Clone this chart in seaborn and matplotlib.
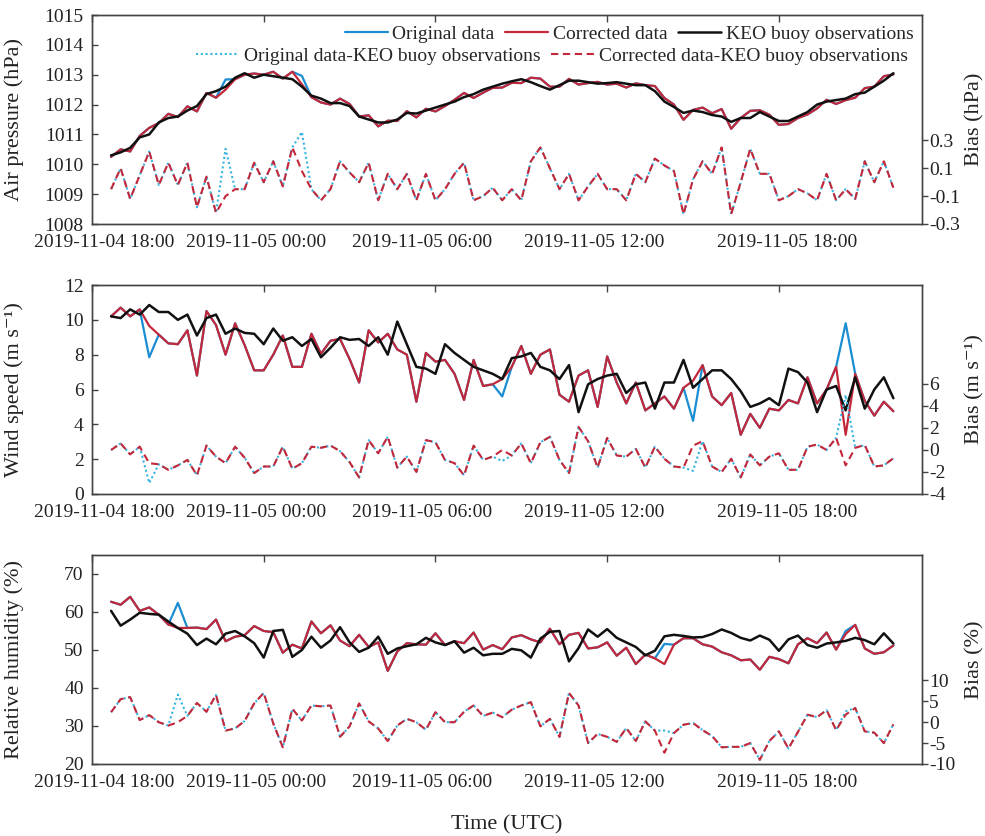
import numpy as np
import pandas as pd
import matplotlib
matplotlib.use('Agg')
import matplotlib.pyplot as plt
import matplotlib.dates as mdates
import matplotlib.transforms as mtransforms
import seaborn as sns

# ---------------- data (20-min samples) ----------------
TIME_START = '2019-11-04 18:40'
N_POINTS = 83

# Air pressure (hPa)
p_keo = [1010.3, 1010.4, 1010.55, 1010.9, 1011.0, 1011.4, 1011.55, 1011.6, 1011.8, 1011.95,
         1012.35, 1012.45, 1012.6, 1012.9, 1013.05, 1012.9, 1013.0, 1012.95, 1012.9, 1012.85,
         1012.6, 1012.3, 1012.2, 1012.05, 1012.05, 1011.95, 1011.6, 1011.5, 1011.4, 1011.4,
         1011.5, 1011.72, 1011.7, 1011.8, 1011.9, 1012.0, 1012.1, 1012.25, 1012.35, 1012.5,
         1012.6, 1012.7, 1012.78, 1012.85, 1012.75, 1012.62, 1012.5, 1012.65, 1012.8, 1012.8,
         1012.75, 1012.7, 1012.72, 1012.75, 1012.7, 1012.65, 1012.65, 1012.45, 1012.1, 1011.92,
         1011.72, 1011.8, 1011.75, 1011.65, 1011.6, 1011.42, 1011.55, 1011.55, 1011.75, 1011.6,
         1011.45, 1011.45, 1011.6, 1011.75, 1012.0, 1012.1, 1012.15, 1012.2, 1012.35, 1012.4,
         1012.6, 1012.8, 1013.05]
p_bias_corr = [-0.05, 0.10, -0.12, 0.05, 0.22, -0.02, 0.14, -0.02, 0.14, -0.18,
               0.04, -0.22, -0.10, -0.05, -0.05, 0.14, 0.00, 0.15, -0.03, 0.25,
               0.08, -0.05, -0.13, -0.05, 0.15, 0.07, 0.00, 0.14, -0.13, 0.06,
               -0.05, 0.06, -0.13, 0.06, -0.13, -0.05, 0.06, 0.14, -0.13, -0.10,
               -0.04, -0.13, -0.05, -0.13, 0.15, 0.25, 0.10, -0.05, 0.06, -0.13,
               -0.03, 0.06, -0.05, -0.05, -0.13, 0.06, 0.00, 0.17, 0.12, 0.08,
               -0.23, 0.02, 0.15, 0.06, 0.25, -0.23, 0.00, 0.24, 0.06, 0.06,
               -0.13, -0.10, -0.05, -0.08, -0.13, 0.06, -0.13, -0.05, -0.12, 0.15,
               0.00, 0.15, -0.04]
p_bias_orig = [-0.05, 0.10, -0.12, 0.05, 0.22, -0.02, 0.14, -0.02, 0.14, -0.18,
               0.04, -0.22, 0.24, -0.05, -0.05, 0.14, 0.00, 0.15, -0.03, 0.25,
               0.36, -0.05, -0.13, -0.05, 0.15, 0.07, 0.00, 0.14, -0.13, 0.06,
               -0.05, 0.06, -0.13, 0.06, -0.13, -0.05, 0.06, 0.14, -0.13, -0.10,
               -0.04, -0.13, -0.05, -0.13, 0.15, 0.25, 0.10, -0.05, 0.06, -0.13,
               -0.03, 0.06, -0.05, -0.05, -0.13, 0.06, 0.00, 0.17, 0.12, 0.08,
               -0.23, 0.02, 0.15, 0.06, 0.25, -0.23, 0.00, 0.24, 0.06, 0.06,
               -0.13, -0.10, -0.05, -0.08, -0.13, 0.06, -0.13, -0.05, -0.12, 0.15,
               0.00, 0.15, -0.04]

# Wind speed (m/s)
w_keo = [10.2, 10.1, 10.6, 10.3, 10.85, 10.45, 10.45, 10.0, 10.3, 9.1,
         10.1, 10.3, 9.2, 9.5, 9.25, 9.2, 8.6, 9.5, 8.8, 9.0,
         8.5, 8.9, 7.85, 8.4, 9.0, 8.85, 8.9, 8.5, 9.0, 8.0,
         9.9, 8.6, 7.3, 7.2, 6.9, 8.6, 8.1, 7.7, 7.3, 7.1,
         6.9, 6.6, 7.8, 7.9, 8.1, 7.3, 7.1, 6.6, 7.4, 4.7,
         6.3, 6.6, 6.8, 6.9, 5.8, 6.3, 6.4, 4.9, 6.4, 6.4,
         7.7, 6.1, 6.6, 7.1, 7.1, 6.6, 5.9, 5.0, 5.2, 5.5,
         5.1, 7.2, 7.0, 6.4, 4.7, 6.0, 6.2, 4.8, 6.7, 4.9,
         6.0, 6.7, 5.5]
w_bias_corr = [0.0, 0.6, -0.4, 0.3, -1.2, -1.3, -1.8, -1.4, -0.9, -2.3,
               0.4, -0.6, -1.2, 0.3, -0.7, -2.1, -1.5, -1.5, 0.3, -1.7,
               -1.2, 0.3, 0.2, 0.4, -0.1, -1.1, -2.5, 0.9, -0.3, 1.2,
               -1.6, -0.6, -2.0, 0.9, 0.7, -0.9, -1.2, -2.3, 0.4, -0.9,
               -0.6, 0.0, -0.5, 0.6, -1.2, 0.7, 1.2, -0.9, -2.1, 2.1,
               0.8, -1.6, 1.1, -0.5, -0.6, 0.1, -1.6, 0.3, -0.8, -1.5,
               -1.6, 0.4, 0.8, -1.5, -2.0, -0.8, -2.5, -0.4, -1.4, -0.6,
               -0.3, -1.8, -1.8, 0.3, 0.5, 0.0, 1.1, -1.4, 0.2, 0.45,
               -1.5, -1.4, -0.75]
w_bias_orig = [0.0, 0.6, -0.4, 0.3, -3.0, -1.3, -1.8, -1.4, -0.9, -2.3,
               0.4, -0.6, -1.2, 0.3, -0.7, -2.1, -1.5, -1.5, 0.3, -1.7,
               -1.2, 0.3, 0.2, 0.4, -0.1, -1.1, -2.5, 0.9, -0.3, 1.2,
               -1.6, -0.6, -2.0, 0.9, 0.7, -0.9, -1.2, -2.3, 0.4, -0.9,
               -0.6, -1.0, -0.5, 0.6, -1.2, 0.7, 1.2, -0.9, -2.1, 2.1,
               0.8, -1.6, 1.1, -0.5, -0.6, 0.1, -1.6, 0.3, -0.8, -1.5,
               -1.6, -1.9, 0.8, -1.5, -2.0, -0.8, -2.5, -0.4, -1.4, -0.6,
               -0.3, -1.8, -1.8, 0.3, 0.5, 0.0, 1.1, 5.0, 0.2, 0.45,
               -1.5, -1.4, -0.75]

# Relative humidity (%)
h_keo = [60.3, 56.4, 58.0, 59.8, 59.5, 59.3, 57.5, 55.8, 54.3, 51.3,
         53.0, 51.5, 54.3, 55.0, 53.6, 51.8, 48.0, 55.0, 55.3, 48.2,
         50.0, 53.5, 50.6, 52.5, 56.0, 52.0, 49.5, 50.6, 53.5, 49.0,
         50.4, 51.0, 51.5, 53.2, 52.0, 51.3, 52.3, 49.3, 50.6, 48.6,
         49.0, 49.0, 50.3, 49.9, 48.0, 53.0, 54.8, 55.0, 47.0, 50.5,
         55.4, 53.5, 55.5, 53.2, 52.0, 50.8, 48.6, 49.8, 53.6, 54.0,
         53.7, 53.3, 53.4, 54.2, 55.4, 54.5, 53.2, 52.5, 53.8, 52.7,
         49.8, 52.8, 53.8, 51.3, 50.6, 51.7, 52.0, 52.4, 53.2, 52.6,
         51.5, 54.4, 51.7]
h_bias_corr = [2.4, 5.5, 6.0, 0.5, 1.7, 0.0, -0.8, 0.0, 1.5, 4.6,
               2.5, 6.5, -2.0, -1.5, 0.3, 4.5, 7.0, -0.3, -6.0, 3.2,
               0.4, 4.0, 3.8, 4.0, -3.5, -1.0, 4.5, 0.2, -1.5, -4.5,
               -0.8, 0.8, 0.0, -1.8, 2.4, 0.0, 0.0, 2.5, 4.0, 1.5,
               2.3, 1.2, 3.0, 4.0, 4.8, -1.0, 0.8, -3.5, 7.0, 4.0,
               -5.0, -2.8, -3.5, -4.7, -1.4, -4.5, 0.2, -2.0, -7.3, -2.6,
               -0.6, -0.2, -1.9, -3.3, -6.0, -5.9, -5.9, -5.0, -9.0, -4.5,
               -2.2, -6.3, -2.3, 1.8, 1.2, 2.9, -1.9, 1.8, 3.4, -2.2,
               -2.5, -5.0, -0.5]
h_bias_orig = [2.4, 5.5, 6.0, 0.5, 1.7, 0.0, -0.8, 6.6, 1.5, 4.6,
               2.5, 6.5, -2.0, -1.5, 0.3, 4.5, 7.0, -0.3, -6.0, 3.2,
               0.4, 4.0, 3.8, 4.0, -3.5, -1.0, 4.5, 0.2, -1.5, -4.5,
               -0.8, 0.8, 0.0, -1.8, 2.4, 0.0, 0.0, 2.5, 4.0, 1.5,
               2.3, 1.2, 3.0, 4.0, 4.8, -1.0, 0.8, -3.5, 7.0, 4.0,
               -5.0, -2.8, -3.5, -4.7, -1.4, -4.5, 0.2, -2.0, -2.0, -2.6,
               -0.6, -0.2, -1.9, -3.3, -6.0, -5.9, -5.9, -5.0, -9.0, -4.5,
               -2.2, -6.3, -2.3, 1.8, 1.2, 2.9, -1.9, 2.6, 3.4, -2.2,
               -2.5, -5.0, -0.5]

tick_times = ['2019-11-04 18:00', '2019-11-05 00:00', '2019-11-05 06:00',
              '2019-11-05 12:00', '2019-11-05 18:00']
legend_labels = ['Original data', 'Corrected data', 'KEO buoy observations',
                 'Original data-KEO buoy observations', 'Corrected data-KEO buoy observations']

# ---------------- style ----------------
sns.set_theme(style='white')
plt.rcParams['font.family'] = ['Liberation Serif', 'DejaVu Serif']
plt.rcParams['axes.unicode_minus'] = False

BLUE = '#1B8DD2'
RED = '#C3283A'
BLACK = '#111111'
DOT_BLUE = '#35B3E2'
SPINE = '#444444'
TXT = '#222222'

times = pd.date_range(TIME_START, periods=N_POINTS, freq='20min')

fig = plt.figure(figsize=(9.85, 8.36), dpi=100)
W, H = 985.0, 836.0
LEFT, RIGHT = 92, 922
LABEL_SHIFT_PX = [12, -8, -13, -13, 8]


def panel(top, bottom, keo, bcorr, borig, ylim_l, yticks_l, ylim_r, yticks_r,
          lab_l, lab_r, show_legend=False, xlabel=None):
    rect = [LEFT / W, 1 - bottom / H, (RIGHT - LEFT) / W, (bottom - top) / H]
    ax = fig.add_axes(rect)
    ax2 = ax.twinx()
    keo = np.array(keo)
    df = pd.DataFrame({'time': times,
                       'orig': keo + np.array(borig),
                       'corr': keo + np.array(bcorr),
                       'keo': keo,
                       'b_orig': borig,
                       'b_corr': bcorr})
    sns.lineplot(data=df, x='time', y='orig', ax=ax, color=BLUE, lw=1.6,
                 estimator=None, legend=False)
    sns.lineplot(data=df, x='time', y='corr', ax=ax, color=RED, lw=1.6,
                 estimator=None, legend=False)
    sns.lineplot(data=df, x='time', y='keo', ax=ax, color=BLACK, lw=1.8,
                 estimator=None, legend=False)
    sns.lineplot(data=df, x='time', y='b_orig', ax=ax2, color=DOT_BLUE, lw=1.5,
                 linestyle=(0, (1, 1.3)), estimator=None, legend=False)
    sns.lineplot(data=df, x='time', y='b_corr', ax=ax2, color=RED, lw=1.5,
                 linestyle=(0, (3.5, 2.2)), estimator=None, legend=False)

    ax.set_ylim(*ylim_l)
    ax.set_yticks(yticks_l)
    ax2.set_ylim(*ylim_r)
    ax2.set_yticks(yticks_r)
    ax.set_xlim(pd.Timestamp('2019-11-04 18:00'), pd.Timestamp('2019-11-05 23:00'))
    ax.set_xticks([pd.Timestamp(t) for t in tick_times])
    ax.xaxis.set_major_formatter(mdates.DateFormatter('%Y-%m-%d %H:%M'))

    ax.tick_params(axis='x', direction='in', length=5, width=1, top=True,
                   labelsize=14, pad=7, colors=SPINE, labelcolor=TXT)
    ax.tick_params(axis='y', direction='in', length=4, width=1,
                   labelsize=14, pad=6, colors=SPINE, labelcolor=TXT)
    ax2.tick_params(axis='y', direction='out', length=4, width=1,
                    labelsize=14, pad=1, colors=SPINE, labelcolor=TXT)
    for a in (ax, ax2):
        for s in a.spines.values():
            s.set_color(SPINE)
            s.set_linewidth(1.0)

    for lbl, dx in zip(ax.get_xticklabels(), LABEL_SHIFT_PX):
        off = mtransforms.ScaledTranslation(dx / 100.0, 0, fig.dpi_scale_trans)
        lbl.set_transform(lbl.get_transform() + off)

    ax.set_ylabel(lab_l, fontsize=16, color=TXT)
    ax.yaxis.set_label_coords((24 - LEFT) / (RIGHT - LEFT), 0.5)
    ax2.set_ylabel(lab_r, fontsize=16, color=TXT, rotation=90)
    ax2.yaxis.set_label_coords((965 - LEFT) / (RIGHT - LEFT), 0.5)
    if xlabel:
        ax.set_xlabel(xlabel, fontsize=16, color=TXT, labelpad=18)
    else:
        ax.set_xlabel('')

    if show_legend:
        h = ax.lines[:3] + ax2.lines[:2]
        leg1 = ax2.legend(h[:3], legend_labels[:3], ncol=3, loc='upper right',
                          bbox_to_anchor=(0.99, 0.95), frameon=False, fontsize=14,
                          handlelength=2.2, handletextpad=0.25, columnspacing=0.55,
                          borderaxespad=0, borderpad=0)
        ax2.add_artist(leg1)
        ax2.legend(h[3:], legend_labels[3:], ncol=2, loc='upper right',
                   bbox_to_anchor=(0.983, 0.845), frameon=False, fontsize=14,
                   handlelength=2.2, handletextpad=0.25, columnspacing=0.55,
                   borderaxespad=0, borderpad=0)
    return ax, ax2


panel(15, 224, p_keo, p_bias_corr, p_bias_orig,
      (1008, 1015), [1008, 1009, 1010, 1011, 1012, 1013, 1014, 1015],
      (-0.3, 1.2), [-0.3, -0.1, 0.1, 0.3],
      'Air pressure (hPa)', 'Bias (hPa)', show_legend=True)
panel(285, 494, w_keo, w_bias_corr, w_bias_orig,
      (0, 12), [0, 2, 4, 6, 8, 10, 12],
      (-4, 15), [-4, -2, 0, 2, 4, 6],
      'Wind speed (m s\u207b\u00b9)', 'Bias (m s\u207b\u00b9)')
panel(555, 764, h_keo, h_bias_corr, h_bias_orig,
      (20, 75), [20, 30, 40, 50, 60, 70],
      (-10, 40), [-10, -5, 0, 5, 10],
      'Relative humidity (%)', 'Bias (%)', xlabel='Time (UTC)')

fig.savefig('out.png', dpi=100)
